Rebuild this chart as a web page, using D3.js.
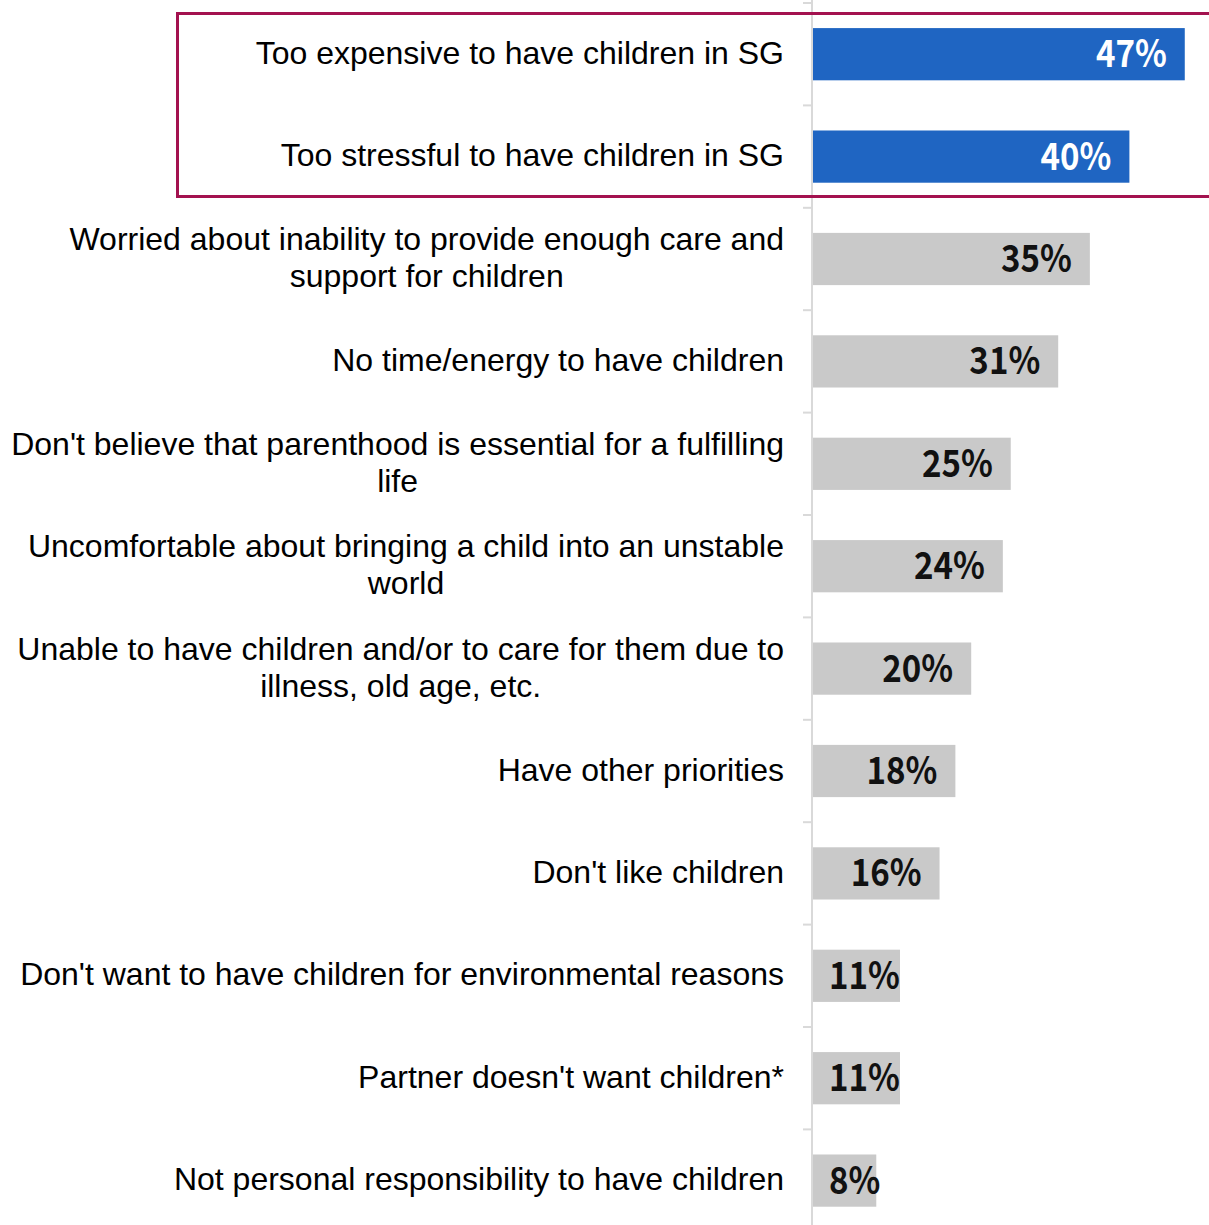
<!DOCTYPE html>
<html>
<head>
<meta charset="utf-8">
<script src="https://cdn.jsdelivr.net/npm/d3@7"></script>
<style>
  html, body { margin: 0; padding: 0; background: #fff; }
  svg { display: block; }
</style>
</head>
<body>
<svg id="chart" width="1209" height="1225"></svg>
<script>
// Reasons for not wanting children (% of respondents)
const categories = [
  "Too expensive to have children in SG",
  "Too stressful to have children in SG",
  "Worried about inability to provide enough care and support for children",
  "No time/energy to have children",
  "Don't believe that parenthood is essential for a fulfilling life",
  "Uncomfortable about bringing a child into an unstable world",
  "Unable to have children and/or to care for them due to illness, old age, etc.",
  "Have other priorities",
  "Don't like children",
  "Don't want to have children for environmental reasons",
  "Partner doesn't want children*",
  "Not personal responsibility to have children"
];
const values = [47, 40, 35, 31, 25, 24, 20, 18, 16, 11, 11, 8];
// The top two reasons are emphasised
const highlighted = [true, true, false, false, false, false, false, false, false, false, false, false];

const W = 1209, H = 1225;
const axisX = 812;
const svg = d3.select("#chart");

const y = d3.scaleBand()
  .domain(categories)
  .range([3, 3 + 102.4 * categories.length])
  .paddingInner(0.49)
  .paddingOuter(0.245);

const x = d3.scaleLinear().domain([0, 50]).range([813, 813 + 395.5]);

// Category axis: light gray line with ticks between bands
const bounds = d3.range(categories.length + 1).map(i => 3 + 102.4 * i);
svg.append("line")
  .attr("x1", axisX).attr("x2", axisX)
  .attr("y1", 0).attr("y2", H)
  .attr("stroke", "#d9d9d9").attr("stroke-width", 2);
svg.selectAll("line.tick").data(bounds).join("line")
  .attr("class", "tick")
  .attr("x1", 803).attr("x2", axisX)
  .attr("y1", d => d).attr("y2", d => d)
  .attr("stroke", "#d9d9d9").attr("stroke-width", 2);

// Bars
svg.selectAll("rect.bar").data(categories).join("rect")
  .attr("class", "bar")
  .attr("x", x(0))
  .attr("y", d => y(d))
  .attr("width", (d, i) => x(values[i]) - x(0))
  .attr("height", y.bandwidth())
  .attr("fill", (d, i) => highlighted[i] ? "#1f65c2" : "#c9c9c9");

// Value labels, right-aligned inside the bar end (narrowed bold face)
const valFont = "'Noto Sans CJK JP', 'Noto Sans', sans-serif";
const squeeze = 0.87;
svg.selectAll("text.val").data(categories).join("text")
  .attr("class", "val")
  .attr("font-family", valFont)
  .attr("font-weight", 700)
  .attr("font-size", 38)
  .attr("text-anchor", "end")
  .attr("fill", (d, i) => highlighted[i] ? "#ffffff" : "#111111")
  .text((d, i) => values[i] + "%")
  .each(function(d, i) {
    const w = this.getComputedTextLength() * squeeze;
    const end = Math.max(x(values[i]) - 18, x(0) + 16 + w);
    const ty = y(d) + y.bandwidth() / 2 + 13;
    d3.select(this).attr("transform", `translate(${end},${ty}) scale(${squeeze},1)`);
  });

// Category labels, wrapped and right-aligned against the axis
const labelFont = "'Liberation Sans', Arial, sans-serif";
const labelRight = 784;
const maxWidth = 800;
const lineH = 37;
const measure = svg.append("text")
  .attr("font-family", labelFont).attr("font-size", 32)
  .attr("visibility", "hidden");
function textWidth(s) { measure.text(s); return measure.node().getComputedTextLength(); }

categories.forEach((c, i) => {
  const words = c.split(" ");
  const lines = [];
  let cur = "";
  words.forEach(w => {
    const t = cur ? cur + " " + w : w;
    if (cur && textWidth(t) > maxWidth) { lines.push(cur); cur = w; }
    else cur = t;
  });
  lines.push(cur);
  const blockW = d3.max(lines, l => textWidth(l));
  const cx = labelRight - blockW / 2;
  const cy = y(c) + y.bandwidth() / 2;
  const t = svg.append("text")
    .attr("font-family", labelFont)
    .attr("font-size", 32)
    .attr("fill", "#000")
    .attr("text-anchor", lines.length > 1 ? "middle" : "end");
  lines.forEach((l, k) => {
    t.append("tspan")
      .attr("x", lines.length > 1 ? cx : labelRight)
      .attr("y", cy + (k - (lines.length - 1) / 2) * lineH + 9.5)
      .text(l);
  });
});
measure.remove();

// Frame around the two highlighted reasons
svg.append("rect")
  .attr("x", 177.5).attr("y", 13.5)
  .attr("width", W + 10 - 177.5)
  .attr("height", 183)
  .attr("fill", "none")
  .attr("stroke", "#a3124f")
  .attr("stroke-width", 3);
</script>
</body>
</html>
